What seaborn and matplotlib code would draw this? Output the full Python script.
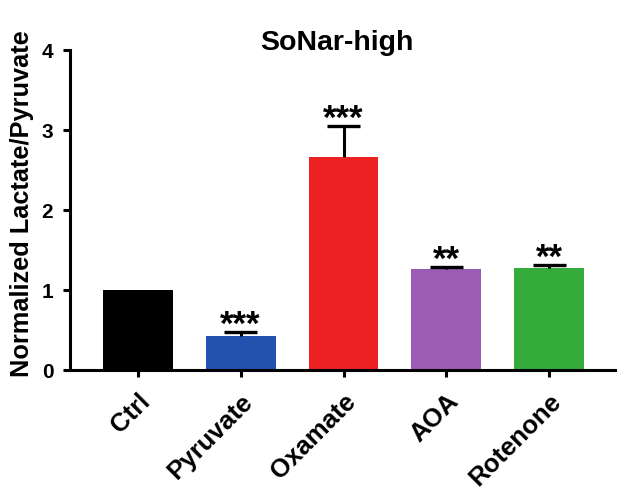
import matplotlib
matplotlib.use("Agg")
import matplotlib.pyplot as plt
import seaborn as sns
import pandas as pd

categories = ["Ctrl", "Pyruvate", "Oxamate", "AOA", "Rotenone"]
ratio_mean = [1.00, 0.43, 2.66, 1.26, 1.28]
ratio_sem = [0.00, 0.04, 0.39, 0.03, 0.03]
significance = ["", "***", "***", "**", "**"]
bar_colors = ["#000000", "#2152ae", "#ec2222", "#9a5cb4", "#35ab3c"]
y_ticks = [0, 1, 2, 3, 4]

sns.set_theme(style="ticks")
plt.rcParams["font.family"] = ["Liberation Sans", "DejaVu Sans"]
plt.rcParams["font.weight"] = "bold"
for key in ["text.color", "axes.labelcolor", "xtick.color", "ytick.color",
            "axes.edgecolor"]:
    plt.rcParams[key] = "black"

df = pd.DataFrame({"condition": categories, "ratio": ratio_mean})

fig = plt.figure(figsize=(6.17, 4.94), dpi=100)
ax = fig.add_axes([70 / 617, 124 / 494, 547 / 617, 320 / 494])

sns.barplot(data=df, x="condition", y="ratio", hue="condition",
            palette=bar_colors, order=categories, hue_order=categories,
            width=0.68, errorbar=None, legend=False, linewidth=0,
            saturation=1, ax=ax)

# upward-only SEM whiskers with a single cap
xs = list(range(len(categories)))
cap_half = 0.16
for x, m, e in zip(xs, ratio_mean, ratio_sem):
    if e > 0:
        ax.vlines(x, m, m + e, color="black", linewidth=2.2, zorder=3)
        ax.hlines(m + e, x - cap_half, x + cap_half, color="black",
                  linewidth=2.4, zorder=3)

for x, m, e, s in zip(xs, ratio_mean, ratio_sem, significance):
    if s:
        ax.annotate(s, (x, m + e), xytext=(0, -7), textcoords="offset points",
                    ha="center", va="bottom", fontsize=25, fontweight="bold",
                    color="black")

ax.set_xlim(-0.66, 4.66)
ax.set_ylim(0, 4)
ax.set_yticks(y_ticks)
ax.set_yticklabels([str(t) for t in y_ticks], fontsize=15, fontweight="bold")
ax.set_xticks(xs)
ax.set_xticklabels(categories, rotation=45, ha="right", rotation_mode="anchor",
                   fontsize=18.5, fontweight="bold")
ax.set_xlabel("")
ax.set_ylabel("Normalized Lactate/Pyruvate", fontsize=18.3, fontweight="bold")
ax.yaxis.set_label_coords(-0.066, 0.52)

for side in ["top", "right"]:
    ax.spines[side].set_visible(False)
for side in ["left", "bottom"]:
    ax.spines[side].set_linewidth(2.2)
    ax.spines[side].set_color("black")
ax.tick_params(axis="both", width=2.2, length=5, color="black")
ax.tick_params(axis="y", pad=7)
ax.tick_params(axis="x", pad=9)

ax.text(0.488, 1.022, "SoNar-high", transform=ax.transAxes, ha="center",
        va="center", fontsize=20.5, fontweight="bold")

ax.set_facecolor("white")
fig.patch.set_facecolor("white")
fig.savefig("out.png", dpi=100, facecolor="white")
